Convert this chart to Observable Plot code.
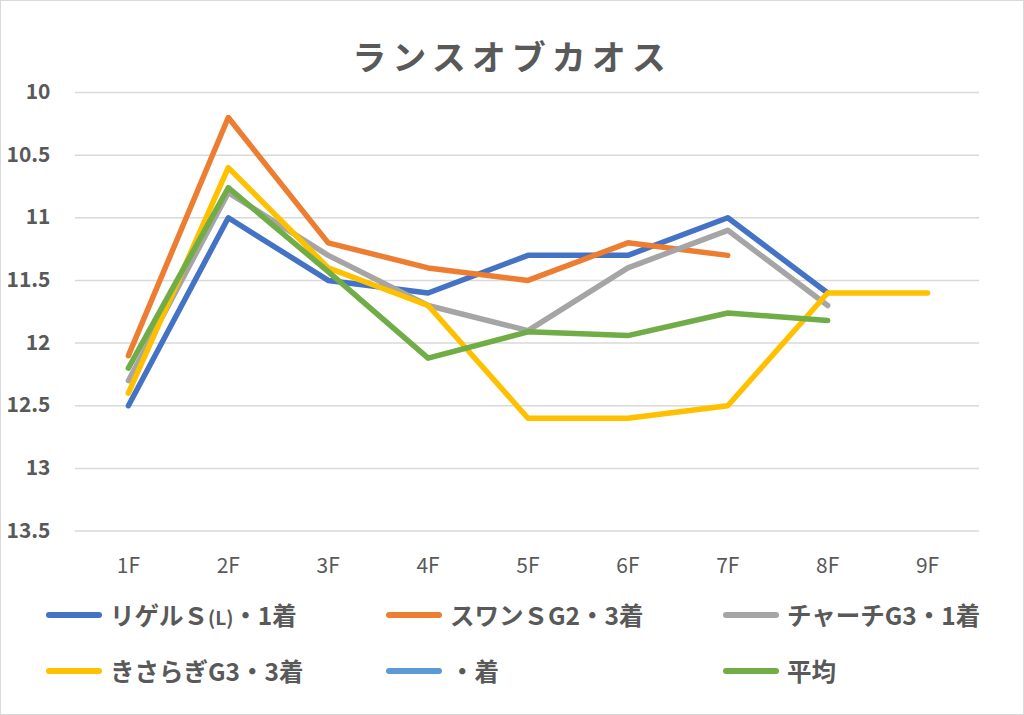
<!DOCTYPE html>
<html>
<head>
<meta charset="utf-8">
<script src="https://cdn.jsdelivr.net/npm/d3@7"></script>
<script src="https://cdn.jsdelivr.net/npm/@observablehq/plot@0.6"></script>
<style>
  html, body { margin: 0; padding: 0; background: #fff; }
  #frame { position: relative; width: 1022px; height: 713px; border: 1px solid #d9d9d9; overflow: hidden; font-family: "Noto Sans CJK JP", "Noto Sans", sans-serif; color: #595959; }
  #title { position: absolute; left: 0; top: 30px; width: 1022px; text-align: center; font-size: 34px; font-weight: bold; letter-spacing: 6px; color: #595959; z-index: 2; }
  #chart { position: absolute; left: -1px; top: 69px; }
  #legend { position: absolute; left: 0; top: 586px; width: 1022px; }
  .item { position: absolute; display: flex; align-items: center; font-size: 24.5px; font-weight: bold; color: #595959; white-space: nowrap; }
  .sw { width: 56px; height: 6px; border-radius: 3px; margin-right: 8px; }
  .small { font-size: 19px; }
</style>
</head>
<body>
<div id="frame">
  <div id="title">ランスオブカオス</div>
  <div id="chart"></div>
  <div id="legend"></div>
</div>
<script>
const categories = ["1F", "2F", "3F", "4F", "5F", "6F", "7F", "8F", "9F"];
const seriesNames = ["リゲルＳ(L)・1着", "スワンＳG2・3着", "チャーチG3・1着", "きさらぎG3・3着", "・着", "平均"];
const seriesColors = ["#4472C4", "#ED7D31", "#A5A5A5", "#FFC000", "#5B9BD5", "#70AD47"];
const rigel   = [12.5, 11.0, 11.5, 11.6, 11.3, 11.3, 11.0, 11.6, null];
const swan    = [12.1, 10.2, 11.2, 11.4, 11.5, 11.2, 11.3, null, null];
const church  = [12.3, 10.8, 11.3, 11.7, 11.9, 11.4, 11.1, 11.7, null];
const kisaragi= [12.4, 10.6, 11.4, 11.7, 12.6, 12.6, 12.5, 11.6, 11.6];
const blank   = [null, null, null, null, null, null, null, null, null];
const average = [12.2, 10.76, 11.43, 12.12, 11.91, 11.94, 11.76, 11.82, null];
const yTicks = [10, 10.5, 11, 11.5, 12, 12.5, 13, 13.5];

const seriesValues = [rigel, swan, church, kisaragi, blank, average];
const rows = [];
seriesValues.forEach((vals, si) => {
  vals.forEach((v, i) => {
    if (v != null) rows.push({series: seriesNames[si], cat: categories[i], value: v, order: si});
  });
});

const lineMarks = seriesNames.map((name, si) =>
  Plot.line(rows.filter(d => d.series === name), {
    x: "cat", y: "value", stroke: seriesColors[si], strokeWidth: 5.5,
    strokeLinecap: "round", strokeLinejoin: "round"
  })
);

const chart = Plot.plot({
  width: 1024,
  height: 517,
  marginLeft: 75,
  marginRight: 44,
  marginTop: 22,
  marginBottom: 56,
  style: { fontFamily: "'Noto Sans CJK JP', 'Noto Sans', sans-serif", color: "#595959", background: "transparent", overflow: "visible" },
  x: { type: "point", domain: categories, padding: 0.5, label: null },
  y: { domain: [10, 13.5], reverse: true, label: null },
  marks: [
    Plot.ruleY(yTicks, { stroke: "#d9d9d9", strokeWidth: 1.5 }),
    Plot.axisY(yTicks, { tickSize: 0, tickPadding: 25, fontSize: 21, fontWeight: "bold", fill: "#595959", tickFormat: d => String(d), label: null }),
    Plot.axisX(categories, { tickSize: 0, tickPadding: 27, fontSize: 21, fill: "#595959", label: null }),
    ...lineMarks
  ]
});
document.getElementById("chart").appendChild(chart);

const legend = document.getElementById("legend");
const colX = [45, 385, 722];
const rowY = [10, 66];
seriesNames.forEach((name, i) => {
  const el = document.createElement("div");
  el.className = "item";
  el.style.left = colX[i % 3] + "px";
  el.style.top = rowY[Math.floor(i / 3)] + "px";
  const label = name.replace("(L)", '<span class="small">(L)</span>');
  el.innerHTML = `<span class="sw" style="background:${seriesColors[i]}"></span><span>${label}</span>`;
  legend.appendChild(el);
});
</script>
</body>
</html>
